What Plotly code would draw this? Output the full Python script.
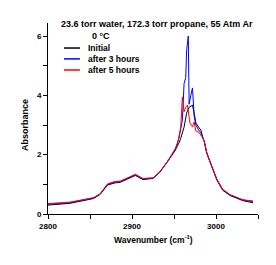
import plotly.graph_objects as go

# ---- data ----
series_names = ["Initial", "after 3 hours", "after 5 hours"]
series_colors = ["#000000", "#0000ff", "#ff0000"]

wn_initial = [2800, 2826, 2854, 2862, 2871, 2880, 2886, 2898, 2904, 2913, 2925, 2933,
              2942, 2951, 2956, 2958, 2962, 2965, 2968, 2972, 2974, 2976, 2980, 2982,
              2984, 2986, 2989, 2995, 3001, 3008, 3017, 3032, 3044]
abs_initial = [0.30, 0.36, 0.52, 0.66, 0.98, 1.05, 1.07, 1.24, 1.30, 1.16, 1.20, 1.40,
               1.74, 2.12, 2.40, 2.55, 2.93, 3.40, 3.60, 3.67, 3.40, 3.07, 2.90, 2.83,
               2.60, 2.45, 2.05, 1.58, 1.15, 0.80, 0.62, 0.45, 0.38]

wn_3h = [2800, 2826, 2854, 2862, 2871, 2880, 2886, 2898, 2904, 2913, 2925, 2933,
         2942, 2951, 2956, 2960, 2962, 2964, 2965, 2967, 2968, 2970, 2972, 2974,
         2976, 2980, 2982, 2984, 2986, 2989, 2995, 3001, 3008, 3017, 3032, 3044]
abs_3h = [0.33, 0.38, 0.54, 0.67, 1.00, 1.08, 1.09, 1.25, 1.32, 1.18, 1.21, 1.41,
          1.75, 2.15, 2.56, 3.17, 4.40, 4.60, 5.50, 6.00, 3.70, 4.00, 4.25, 3.30,
          3.00, 2.80, 2.75, 2.60, 2.45, 2.06, 1.59, 1.16, 0.82, 0.64, 0.47, 0.42]

wn_5h = [2800, 2826, 2854, 2862, 2871, 2880, 2886, 2898, 2904, 2913, 2925, 2933,
         2942, 2951, 2954, 2958, 2960, 2962, 2964, 2966, 2969, 2972, 2974, 2976,
         2980, 2982, 2984, 2986, 2989, 2995, 3001, 3008, 3017, 3032, 3044]
abs_5h = [0.35, 0.40, 0.55, 0.68, 1.02, 1.10, 1.11, 1.27, 1.34, 1.20, 1.22, 1.42,
          1.76, 2.18, 2.33, 2.93, 3.95, 3.45, 3.60, 3.67, 3.07, 2.94, 3.10, 2.80,
          2.75, 2.65, 2.58, 2.45, 2.07, 1.60, 1.18, 0.83, 0.65, 0.48, 0.44]

x_ticks = [2800, 2900, 3000]
y_ticks = [0, 2, 4, 6]
title_line1 = "23.6 torr water, 172.3 torr propane, 55 Atm Ar"
title_line2 = "0 °C"
x_title = "Wavenumber (cm<sup>-1</sup>)"
y_title = "Absorbance"

FONT = "Liberation Sans"

def bold(s):
    return "<b>" + s + "</b>"

fig = go.Figure()
for wn, ab, name, col in [(wn_initial, abs_initial, series_names[0], series_colors[0]),
                          (wn_3h, abs_3h, series_names[1], series_colors[1]),
                          (wn_5h, abs_5h, series_names[2], series_colors[2])]:
    fig.add_trace(go.Scatter(x=wn, y=ab, mode="lines", name=name,
                             line=dict(color=col, width=1), showlegend=False))

axis_common = dict(showgrid=False, zeroline=False, showline=True, linecolor="black",
                   linewidth=1, ticks="outside", ticklen=4, tickcolor="black",
                   tickfont=dict(family=FONT, size=8, color="black"))

fig.update_xaxes(range=[2800, 3050], tickvals=x_ticks,
                 ticktext=[bold(str(v)) for v in x_ticks],
                 minor=dict(dtick=50, tick0=2850, ticks="outside", ticklen=4,
                            tickcolor="black"),
                 **axis_common)
fig.update_yaxes(range=[0, 6.44], tickvals=y_ticks,
                 ticktext=[bold(str(v)) for v in y_ticks],
                 minor=dict(dtick=1, tick0=1, ticks="outside", ticklen=4, tickcolor="black"),
                 **axis_common)

annotations = [
    dict(text=bold(title_line1), x=0.517, y=0.995, xref="paper", yref="paper",
         showarrow=False, xanchor="center", yanchor="middle",
         font=dict(family=FONT, size=9, color="black")),
    dict(text=bold(title_line2), x=0.252, y=0.932, xref="paper", yref="paper",
         showarrow=False, xanchor="center", yanchor="middle",
         font=dict(family=FONT, size=9, color="black")),
    dict(text=bold(x_title), x=0.5, y=-0.136, xref="paper", yref="paper",
         showarrow=False, xanchor="center", yanchor="middle",
         font=dict(family=FONT, size=8.5, color="black")),
    dict(text=bold(y_title), x=-0.11, y=0.466, xref="paper", yref="paper", textangle=-90,
         showarrow=False, xanchor="center", yanchor="middle",
         font=dict(family=FONT, size=9, color="black")),
]
shapes = []
legend_y = [0.869, 0.812, 0.754]
for name, col, ly in zip(series_names, series_colors, legend_y):
    shapes.append(dict(type="line", xref="paper", yref="paper", x0=0.076, x1=0.152,
                       y0=ly, y1=ly, line=dict(color=col, width=1.5)))
    annotations.append(dict(text=bold(name), x=0.181, y=ly, xref="paper", yref="paper",
                            showarrow=False, xanchor="left", yanchor="middle",
                            font=dict(family=FONT, size=8.5, color="black")))

# page body adds an 8px offset, so the figure is 8px smaller and margins shifted
fig.update_layout(width=268, height=257, margin=dict(l=40, r=18, t=15, b=51),
                  paper_bgcolor="white", plot_bgcolor="white",
                  annotations=annotations, shapes=shapes, showlegend=False)

fig.write_html("out.html")
